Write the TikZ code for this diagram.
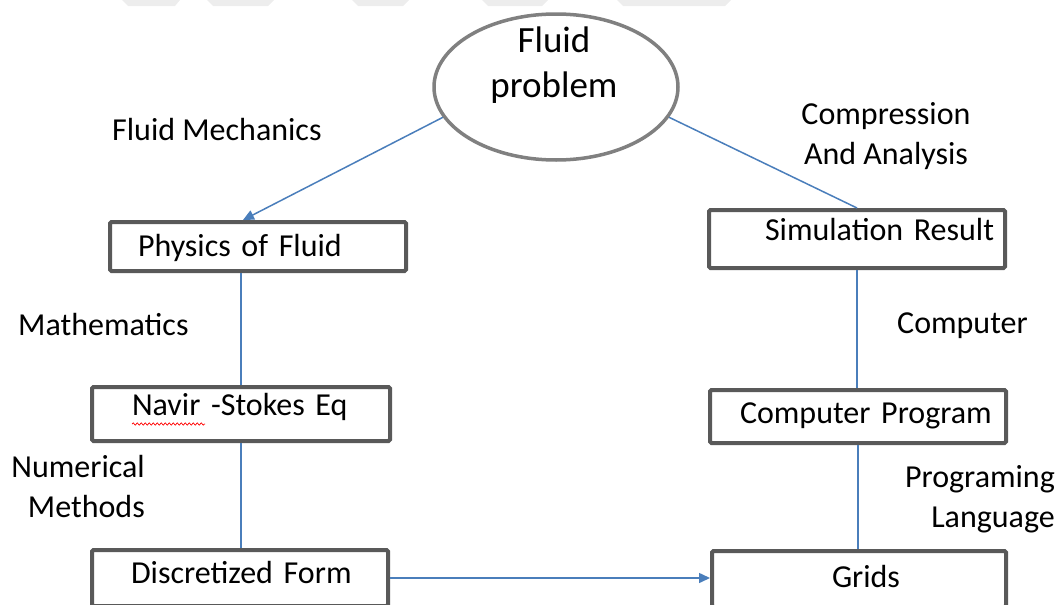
\documentclass[tikz,border=0pt]{standalone}
\usepackage{fontspec}
\setmainfont{Carlito}
\usetikzlibrary{shapes.geometric,arrows.meta,decorations.pathmorphing,calc}
\definecolor{boxgray}{HTML}{595959}
\definecolor{ellgray}{HTML}{808080}
\definecolor{conblue}{HTML}{4A7EBB}
\definecolor{wmgray}{HTML}{EDEDED}
\begin{document}
\begin{tikzpicture}[x=1pt,y=-1pt,
  box/.style={draw=boxgray, line width=4pt, rounded corners=1.5pt, inner sep=0pt,
              align=left, anchor=north west, font=\fontsize{32}{39.5}\selectfont},
  lbl/.style={inner sep=0pt, font=\fontsize{32}{39.5}\selectfont},
  conn/.style={draw=conblue, line width=1.5pt},
  arr/.style={conn, -{Triangle[length=11pt,width=10pt]}},
  wm/.style={fill=wmgray, draw=none}
]
\useasboundingbox (0,0) rectangle (1063,605);
\clip (0,0) rectangle (1063,605);

% faint watermark fragments at the top edge
\fill[wm] (122,0) -- (180,0) -- (175,6) -- (128,6) -- cycle;
\fill[wm] (207,0) -- (274,0) -- (268,6) -- (213,6) -- cycle;
\fill[wm] (352,0) -- (409,0) -- (403,6) -- (358,6) -- cycle;
\fill[wm] (482,0) -- (548,0) -- (542,6) -- (488,6) -- cycle;
\fill[wm] (617,0) -- (731,0) -- (725,6) -- (623,6) -- cycle;

% ellipse
\node[ellipse, draw=ellgray, line width=3.5pt, minimum width=244pt, minimum height=146pt, inner sep=0pt] (prob) at (556,87) {};
\node[lbl, font=\fontsize{37}{45}\selectfont, align=center, anchor=base] (probtxt) at (554,97) {Fluid\\problem};

% boxes
\node[box, text width=296pt, text height=34pt, text depth=15pt] (phys) at (108,220) {\hspace*{28pt}Physics of Fluid};
\node[box, text width=298pt, text height=28pt, text depth=26pt] (nav) at (90,385) {\hspace*{40pt}Navir -Stokes Eq};
\node[box, text width=296pt, text height=33pt, text depth=23pt] (disc) at (90,548) {\hspace*{39pt}Discretized Form};
\node[box, text width=296pt, text height=30pt, text depth=28pt] (sim) at (707,208) {\hspace*{56pt}Simulation Result};
\node[box, text width=296pt, text height=33pt, text depth=20pt] (comp) at (708,388) {\hspace*{30pt}Computer Program};
\node[box, text width=294pt, text height=36pt, text depth=20pt] (grids) at (710,549) {\hspace*{120pt}Grids};

% spell-check underline under "Navir"
\draw[red, line width=0.7pt, decorate, decoration={snake, amplitude=1.1pt, segment length=4pt}] (132,424) -- (205,424);

% labels
\node[lbl, anchor=base west] (lmech) at (112,140) {Fluid Mechanics};
\node[lbl, align=center, anchor=base] (lcomp) at (886,164) {Compression\\And Analysis};
\node[lbl, anchor=base west] (lmath) at (18,335) {Mathematics};
\node[lbl, anchor=base west] (lcomputer) at (897,333) {Computer};
\node[lbl, align=right, anchor=base east] (lnum) at (145,517) {Numerical\\Methods};
\node[lbl, align=right, anchor=base east] (lprog) at (1055,527) {Programing\\Language};

% connectors
\draw[arr] (prob.195) -- ([xshift=-15pt]phys.north);
\draw[conn] (prob.-15) -- (sim.north);
\draw[conn] (nav.north |- phys.south) -- (nav.north);
\draw[conn] (nav.south) -- (nav.south |- disc.north);
\draw[conn] (sim.south) -- (sim.south |- comp.north);
\draw[conn] (comp.south) -- (comp.south |- grids.north);
\draw[arr] (disc.east) -- (disc.east -| grids.west);
\end{tikzpicture}
\end{document}
